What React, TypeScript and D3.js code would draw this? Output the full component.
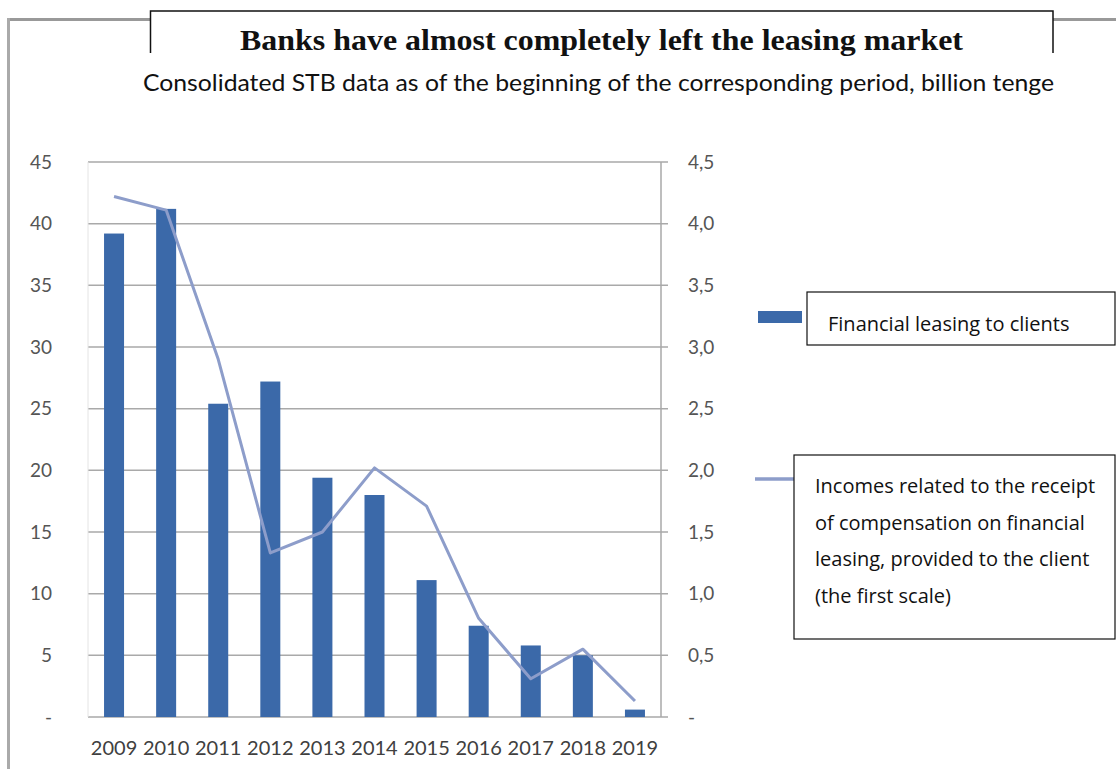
import React from 'react';
import * as d3 from 'd3';

const years = ['2009', '2010', '2011', '2012', '2013', '2014', '2015', '2016', '2017', '2018', '2019'];
const leasing = [39.2, 41.2, 25.4, 27.2, 19.4, 18.0, 11.1, 7.4, 5.8, 5.0, 0.6];
const incomes = [4.22, 4.11, 2.9, 1.33, 1.5, 2.02, 1.71, 0.8, 0.31, 0.55, 0.13];
const leftTicks = [0, 5, 10, 15, 20, 25, 30, 35, 40, 45];
const rightTicks = [0, 0.5, 1, 1.5, 2, 2.5, 3, 3.5, 4, 4.5];

const titleText = 'Banks have almost completely left the leasing market';
const subtitleText = 'Consolidated STB data as of the beginning of the corresponding period, billion tenge';
const legendBar = 'Financial leasing to clients';
const legendLine = [
  'Incomes related to the receipt',
  'of compensation on financial',
  'leasing, provided to the client',
  '(the first scale)',
];

const BAR = '#3b69a9';
const LINE = '#8d9dca';
const GRID = '#a9a9a9';

export default function App() {
  const W = 1116;
  const H = 769;
  const plotL = 88;
  const plotR = 661;
  const plotT = 162;
  const plotB = 717;

  const x = d3.scaleBand<string>().domain(years).range([plotL, plotR]).paddingInner(0.616).paddingOuter(0.308);
  const yL = d3.scaleLinear().domain([0, 45]).range([plotB, plotT]);
  const yR = d3.scaleLinear().domain([0, 4.5]).range([plotB, plotT]);
  const cx = (d: string) => (x(d) as number) + x.bandwidth() / 2;

  const line = d3
    .line<number>()
    .x((_, i) => cx(years[i]))
    .y((d) => yR(d));

  const fmtR = (v: number) => (v === 0 ? '-' : d3.format('.1f')(v).replace('.', ','));
  const fmtL = (v: number) => (v === 0 ? '-' : String(v));

  const axisFont = 'Lato, "Open Sans", sans-serif';
  const legendFont = '"Open Sans", sans-serif';

  return (
    <svg
      width={W}
      height={H}
      viewBox={`0 0 ${W} ${H}`}
      style={{ position: 'absolute', left: 0, top: 0, background: '#fff' }}
    >
      {/* outer frame */}
      <line x1={7} y1={19.5} x2={150} y2={19.5} stroke="#999" strokeWidth={3} />
      <line x1={1053} y1={19.5} x2={1116} y2={19.5} stroke="#999" strokeWidth={3} />
      <line x1={8.5} y1={18} x2={8.5} y2={769} stroke="#aaa" strokeWidth={3} />

      {/* title box */}
      <path d="M150.5,53 L150.5,11 L1053,11 L1053,53" fill="none" stroke="#111" strokeWidth={1.5} />
      <text
        x={240}
        y={50}
        fontFamily='"Liberation Serif", "Times New Roman", serif'
        fontWeight="bold"
        fontSize={29}
        fill="#111"
        textLength={723}
        lengthAdjust="spacingAndGlyphs"
      >
        {titleText}
      </text>
      <text
        x={143}
        y={91}
        fontFamily={axisFont}
        fontSize={23}
        fill="#111"
        textLength={911}
        lengthAdjust="spacingAndGlyphs"
      >
        {subtitleText}
      </text>

      {/* gridlines */}
      {leftTicks.map((t) => (
        <line key={'g' + t} x1={plotL} x2={668} y1={yL(t)} y2={yL(t)} stroke={GRID} strokeWidth={1.5} />
      ))}
      <line x1={plotL} x2={plotL} y1={plotT} y2={plotB} stroke="#e4e4e4" strokeWidth={1} />
      <line x1={plotR} x2={plotR} y1={plotT} y2={plotB} stroke={GRID} strokeWidth={1.5} />

      {/* bars */}
      {leasing.map((v, i) => (
        <rect
          key={'b' + i}
          x={x(years[i]) as number}
          y={yL(v)}
          width={x.bandwidth()}
          height={plotB - yL(v)}
          fill={BAR}
        />
      ))}

      {/* line */}
      <path d={line(incomes) as string} fill="none" stroke={LINE} strokeWidth={3} strokeLinejoin="round" />

      {/* left axis labels */}
      {leftTicks.map((t) => (
        <text
          key={'l' + t}
          x={52}
          y={yL(t)}
          dy="0.35em"
          textAnchor="end"
          fontFamily={axisFont}
          fontSize={19}
          fill="#555"
        >
          {fmtL(t)}
        </text>
      ))}

      {/* right axis labels */}
      {rightTicks.map((t) => (
        <text key={'r' + t} x={688} y={yR(t)} dy="0.35em" fontFamily={axisFont} fontSize={19} fill="#555">
          {fmtR(t)}
        </text>
      ))}

      {/* x labels */}
      {years.map((yr) => (
        <text key={'x' + yr} x={cx(yr)} y={755} textAnchor="middle" fontFamily={axisFont} fontSize={20} fill="#404040">
          {yr}
        </text>
      ))}

      {/* legend */}
      <rect x={758} y={311} width={44} height={12} fill={BAR} />
      <rect x={807} y={292} width={308} height={53} fill="#fff" stroke="#111" strokeWidth={1.2} />
      <text x={828} y={331} fontFamily={legendFont} fontSize={20} fill="#111">
        {legendBar}
      </text>

      <line x1={755} x2={795} y1={479} y2={479} stroke={LINE} strokeWidth={3.5} />
      <rect x={794} y={455} width={321} height={184} fill="#fff" stroke="#111" strokeWidth={1.2} />
      {legendLine.map((s, i) => (
        <text key={'ll' + i} x={815} y={493 + i * 36.7} fontFamily={legendFont} fontSize={20} fill="#111">
          {s}
        </text>
      ))}
    </svg>
  );
}
